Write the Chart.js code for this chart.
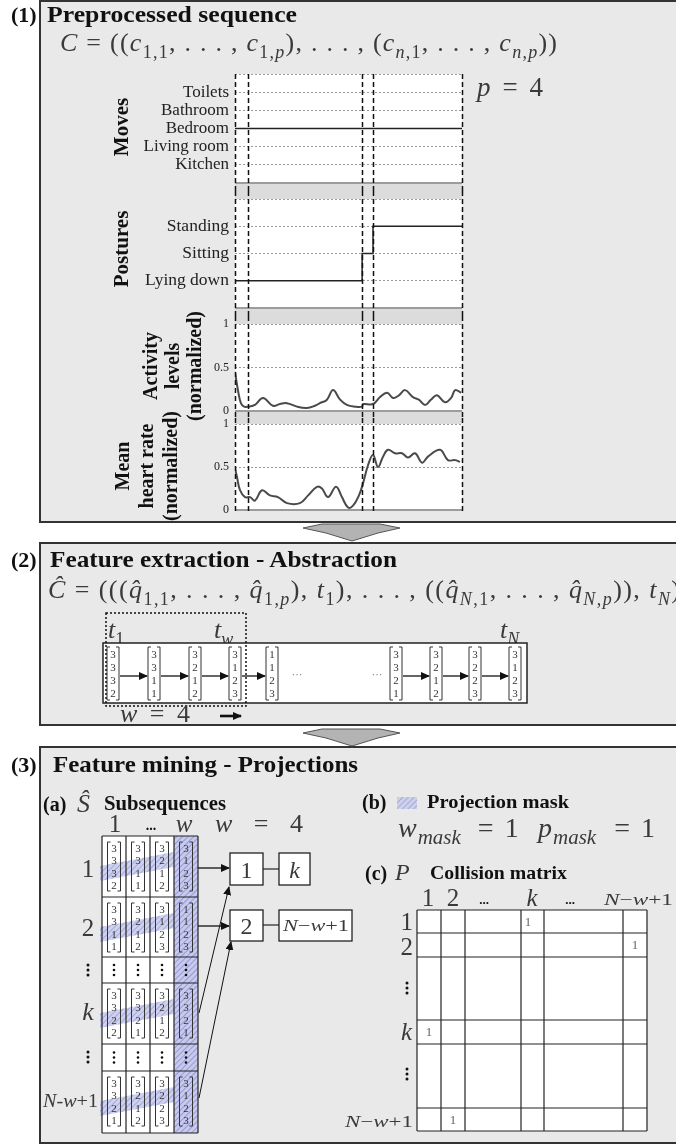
<!DOCTYPE html>
<html>
<head>
<meta charset="utf-8">
<script src="https://cdn.jsdelivr.net/npm/chart.js@4.4.1/dist/chart.umd.min.js"></script>
<style>
  html, body { margin: 0; padding: 0; background: #fff; }
  #page { position: relative; width: 676px; height: 1144px; overflow: hidden; }
  #bg, #fg { position: absolute; left: 0; top: 0; }
  #bg { z-index: 0; }
  #fg { z-index: 2; pointer-events: none; }
  canvas { position: absolute; z-index: 1; }
  svg text { white-space: pre; }
</style>
</head>
<body>
<div id="page">
  <svg id="bg" width="676" height="1144"></svg>
  <canvas id="cMoves" width="412" height="131" style="left:60px;top:60px"></canvas>
  <canvas id="cPostures" width="412" height="125" style="left:60px;top:191px"></canvas>
  <canvas id="cActivity" width="412" height="102" style="left:60px;top:316px"></canvas>
  <canvas id="cHeart" width="412" height="102" style="left:60px;top:418px"></canvas>
  <svg id="fg" width="676" height="1144" font-family="Liberation Serif, Times New Roman, serif"></svg>
</div>
<script>
// ---- data ----
const moveRooms = ["Kitchen", "Living room", "Bedroom", "Bathroom", "Toilets"];
const moveTimes = [0, 100];
const moveValues = ["Bedroom", "Bedroom"];

const postureNames = ["Lying down", "Sitting", "Standing"];
const postureTimes = [0, 56, 60.8, 100];
const postureValues = ["Lying down", "Sitting", "Standing", "Standing"];

const activityTimes = [0, 1.3, 2.6, 4, 5.7, 8.8, 12.3, 16.7, 19.8, 22.9, 27.3, 31.7, 35.2, 37.4, 40.5, 43.2, 46.3, 49.3, 52.9, 56, 56.4, 60.8, 63.9, 67, 69.6, 72.2, 74.9, 78.4, 81, 83.7, 86.3, 89, 92.5, 95.2, 97, 99.6];
const activityValues = [0.45, 0.24, 0.09, 0.05, 0.05, 0.07, 0.15, 0.06, 0.08, 0.09, 0.05, 0.035, 0.06, 0.09, 0.13, 0.24, 0.13, 0.07, 0.05, 0.05, 0.08, 0.08, 0.16, 0.21, 0.15, 0.18, 0.24, 0.16, 0.13, 0.07, 0.13, 0.18, 0.10, 0.15, 0.24, 0.21];

const heartTimes = [0, 0.9, 2.2, 4.4, 6.6, 8.8, 11.9, 15.4, 18.9, 22.9, 28.6, 32.2, 36.1, 38.3, 41, 44.5, 47.1, 49.8, 52, 54.6, 56.4, 58.6, 60.8, 63, 65.2, 67.4, 70.5, 73.6, 76.2, 79.3, 82.4, 85, 90.3, 93.8, 96.9, 99.1];
const heartValues = [0.49, 0.38, 0.23, 0.15, 0.15, 0.11, 0.23, 0.17, 0.15, 0.08, 0.08, 0.17, 0.27, 0.25, 0.15, 0.27, 0.15, 0.03, 0.05, 0.17, 0.31, 0.52, 0.64, 0.50, 0.62, 0.70, 0.66, 0.66, 0.61, 0.66, 0.55, 0.62, 0.70, 0.58, 0.58, 0.56];

const windowCuts = [0, 5.7, 56, 60.8, 100];
const normTicks = [0, 0.5, 1];

// symbolic sequence (panel 2)
const seqHead = [[3, 3, 3, 2], [3, 3, 1, 1], [3, 2, 1, 2], [3, 1, 2, 3], [1, 1, 2, 3]];
const seqTail = [[3, 3, 2, 1], [3, 2, 1, 2], [3, 2, 2, 3], [3, 1, 2, 3]];

// subsequences (panel 3a)
const subRow1 = [[3, 3, 3, 2], [3, 3, 1, 1], [3, 2, 1, 2], [3, 1, 2, 3]];
const subRow2 = [[3, 3, 1, 1], [3, 2, 1, 2], [3, 1, 2, 3], [1, 1, 2, 3]];
const subRowK = [[3, 3, 2, 2], [3, 3, 2, 1], [3, 2, 1, 2], [3, 3, 2, 1]];
const subRowLast = [[3, 3, 2, 1], [3, 2, 1, 2], [3, 2, 2, 3], [3, 1, 2, 3]];

// collision matrix (panel 3c)
const matrixCols = ["1", "2", "...", "k", "...", "N−w+1"];
const matrixRows = ["1", "2", "⋮", "k", "⋮", "N−w+1"];
const collisionOnes = [["1", "k"], ["2", "N−w+1"], ["k", "1"], ["N−w+1", "2"]];

const serif = "'Liberation Serif', 'Times New Roman', serif";

// ---- panel 1 charts ----
const plotDecor = {
  id: "plotDecor",
  beforeDraw(chart, args, opts) {
    const { ctx, chartArea: a } = chart;
    ctx.save();
    ctx.fillStyle = "#dcdcdc";
    if (opts.bandAbove) ctx.fillRect(a.left, 0, a.width, a.top);
    if (opts.bandBelow) ctx.fillRect(a.left, a.bottom, a.width, chart.height - a.bottom);
    ctx.fillStyle = "#fff";
    ctx.fillRect(a.left, a.top, a.width, a.height);
    ctx.restore();
  },
  afterDraw(chart, args, opts) {
    const { ctx, chartArea: a, scales: { x, y } } = chart;
    ctx.save();
    const yb = y.getPixelForValue(y.min);
    ctx.strokeStyle = "#9c9c9c";
    ctx.lineWidth = 2;
    ctx.beginPath(); ctx.moveTo(a.left, yb); ctx.lineTo(a.right, yb); ctx.stroke();
    ctx.strokeStyle = "#111";
    ctx.lineWidth = 1.5;
    ctx.setLineDash([5, 3]);
    const y0 = opts.first ? a.top : 0;
    const y1 = opts.last ? a.bottom + 2 : chart.height;
    windowCuts.forEach(t => {
      const px = Math.round(x.getPixelForValue(t)) + 0.5;
      ctx.beginPath(); ctx.moveTo(px, y0); ctx.lineTo(px, y1); ctx.stroke();
    });
    ctx.restore();
  }
};

function plotChart(id, dataset, cfg, decor) {
  return new Chart(document.getElementById(id), {
    type: "line",
    data: { datasets: [dataset] },
    options: {
      responsive: false,
      animation: false,
      devicePixelRatio: 1,
      layout: { padding: cfg.pad },
      plugins: { legend: { display: false }, tooltip: { enabled: false }, plotDecor: decor },
      scales: {
        x: { type: "linear", min: 0, max: 100, display: false },
        y: {
          min: cfg.min,
          max: cfg.max,
          afterBuildTicks: s => { s.ticks = cfg.ticks.map(v => ({ value: v })); },
          ticks: { autoSkip: false, padding: 6, color: "#222", font: { family: serif, size: cfg.tickSize }, callback: cfg.label },
          grid: {
            drawTicks: false,
            lineWidth: 1,
            color: c => (c.tick && c.tick.value === cfg.min) ? "rgba(0,0,0,0)" : "#9a9a9a"
          },
          border: { display: false, dash: [2, 2] },
          afterFit: s => { s.width = 175; s.paddingTop = 0; s.paddingBottom = 0; }
        }
      }
    },
    plugins: [plotDecor]
  });
}

const stepLine = (times, vals, names) => ({
  data: times.map((t, i) => ({ x: t, y: names.indexOf(vals[i]) + 1 })),
  stepped: true, borderColor: "#222", borderWidth: 1.5, pointRadius: 0
});
const curve = (times, vals) => ({
  data: times.map((t, i) => ({ x: t, y: vals[i] })),
  borderColor: "#4a4a4a", borderWidth: 2, pointRadius: 0, tension: 0.4
});

plotChart("cMoves", stepLine(moveTimes, moveValues, moveRooms), {
  pad: { top: 14, bottom: 8, left: 0, right: 10 }, min: 0, max: 6, ticks: [0, 1, 2, 3, 4, 5, 6],
  tickSize: 17, label: v => moveRooms[v - 1] || ""
}, { first: true, bandBelow: true });

plotChart("cPostures", stepLine(postureTimes, postureValues, postureNames), {
  pad: { top: 8, bottom: 8, left: 0, right: 10 }, min: 0, max: 4, ticks: [0, 1, 2, 3, 4],
  tickSize: 17.5, label: v => postureNames[v - 1] || ""
}, { bandAbove: true, bandBelow: true });

plotChart("cActivity", curve(activityTimes, activityValues), {
  pad: { top: 8, bottom: 7, left: 0, right: 10 }, min: 0, max: 1, ticks: normTicks,
  tickSize: 12, label: v => String(v)
}, { bandAbove: true, bandBelow: true });

plotChart("cHeart", curve(heartTimes, heartValues), {
  pad: { top: 6, bottom: 10, left: 0, right: 10 }, min: 0, max: 1, ticks: normTicks,
  tickSize: 12, label: v => String(v)
}, { bandAbove: true, last: true });

// ---- background panels ----
const bg = [];
[[1, 521], [543, 182], [747, 396]].forEach(([y, h]) =>
  bg.push(`<rect x="40" y="${y}" width="650" height="${h}" fill="#e9e9e9" stroke="#333" stroke-width="2"/>`));
[524, 729].forEach(t => {
  const p = [[303, 4], [322, 0], [380, 0], [400, 4], [378, 9], [352, 17], [326, 9]];
  bg.push(`<polygon points="${p.map(([x, d]) => x + "," + (t + d)).join(" ")}" fill="#b3b3b3" stroke="#555" stroke-width="1"/>`);
});
document.getElementById("bg").innerHTML = bg.join("");

// ---- foreground diagram ----
const fg = [];
fg.push(`<defs>
  <pattern id="hatch" width="4" height="4" patternUnits="userSpaceOnUse" patternTransform="rotate(45)">
    <rect width="4" height="4" fill="#c7caec"/><line x1="0" y1="0" x2="0" y2="4" stroke="#7f86c8" stroke-width="1.4"/>
  </pattern>
  <marker id="ah" markerWidth="9" markerHeight="8" refX="8" refY="4" orient="auto" markerUnits="userSpaceOnUse">
    <path d="M0,0 L9,4 L0,8 z" fill="#111"/>
  </marker>
</defs>`);

function T(x, y, s, o = {}) {
  const a = [`x="${x}"`, `y="${y}"`, `font-size="${o.size || 20}"`];
  if (o.bold) a.push('font-weight="bold"');
  if (o.italic) a.push('font-style="italic"');
  if (o.anchor) a.push(`text-anchor="${o.anchor}"`);
  if (o.len) a.push(`textLength="${o.len}" lengthAdjust="spacingAndGlyphs"`);
  a.push(`fill="${o.fill || "#111"}"`);
  fg.push(`<text ${a.join(" ")}>${s}</text>`);
}
// math-like text: parts are [kind, text, dx]; kind r/i normal, s/si subscript
function M(x, y, size, parts, len, adj = "spacing", fill = "#3a3a3a", subScale = 0.7) {
  let inner = "", low = false;
  const sub = Math.round(size * subScale), sh = Math.round(size * 0.25);
  parts.forEach(([k, s, dx]) => {
    const isSub = k[0] === "s";
    let dy = 0;
    if (isSub && !low) { dy = sh; low = true; } else if (!isSub && low) { dy = -sh; low = false; }
    inner += `<tspan${dy ? ` dy="${dy}"` : ""}${dx ? ` dx="${dx}"` : ""}${k === "i" || k === "si" ? ' font-style="italic"' : ""}${isSub ? ` font-size="${sub}"` : ""}>${s}</tspan>`;
  });
  fg.push(`<text x="${x}" y="${y}" font-size="${size}" fill="${fill}"${len ? ` textLength="${len}" lengthAdjust="${adj}"` : ""}>${inner}</text>`);
}
// vertical axis title, lines stacked left to right
function vTitle(xs, cy, lines, size) {
  lines.forEach((s, i) => fg.push(`<text transform="translate(${xs[i]},${cy}) rotate(-90)" x="0" y="0" dy="0.35em" text-anchor="middle" font-size="${size}" font-weight="bold" fill="#111">${s}</text>`));
}
function arrow(x1, y1, x2, y2, w = 1.3) {
  fg.push(`<line x1="${x1}" y1="${y1}" x2="${x2}" y2="${y2}" stroke="#111" stroke-width="${w}" marker-end="url(#ah)"/>`);
}
function vec(cx, top, h, vals, w = 12) {
  const l = cx - w / 2, r = cx + w / 2, b = top + h;
  fg.push(`<path d="M${l + 3},${top}H${l}V${b}H${l + 3}M${r - 3},${top}H${r}V${b}H${r - 3}" fill="none" stroke="#333" stroke-width="1"/>`);
  vals.forEach((v, i) => fg.push(`<text x="${cx}" y="${(top + h * (i + 0.5) / 4 + 4).toFixed(1)}" font-size="11" text-anchor="middle" fill="#333">${v}</text>`));
}
function vdots(cx, cy, r = 1.3, gap = 5) {
  [-gap, 0, gap].forEach(d => fg.push(`<circle cx="${cx}" cy="${cy + d}" r="${r}" fill="#111"/>`));
}
function box(x, y, w, h) {
  fg.push(`<rect x="${x}" y="${y}" width="${w}" height="${h}" fill="#fff" stroke="#222" stroke-width="1.3"/>`);
}

// panel 1 texts
T(11, 22, "(1)", { size: 22, bold: true });
T(47, 22, "Preprocessed sequence", { size: 23, bold: true, len: 250 });
M(60, 51, 26, [["i", "C"], ["r", " = (("], ["i", "c"], ["s", "1,1"], ["r", ", . . . , "], ["i", "c"], ["s", "1,"], ["si", "p"], ["r", "), . . . , ("], ["i", "c"], ["si", "n"], ["s", ",1"], ["r", ", . . . , "], ["i", "c"], ["si", "n"], ["s", ","], ["si", "p"], ["r", "))"]], 497);
M(477, 96, 27, [["i", "p"], ["r", " = 4"]], 66);
vTitle([121], 127, ["Moves"], 21);
vTitle([121], 249, ["Postures"], 21);
vTitle([150, 172, 194], 366, ["Activity", "levels", "(normalized)"], 20);
vTitle([122, 146, 170], 466, ["Mean", "heart rate", "(normalized)"], 20);

// panel 2
T(11, 567, "(2)", { size: 22, bold: true });
T(50, 567, "Feature extraction - Abstraction", { size: 23, bold: true, len: 347 });
M(48, 598, 26, [["i", "Ĉ"], ["r", " = ((("], ["i", "q̂"], ["s", "1,1"], ["r", ", . . . , "], ["i", "q̂"], ["s", "1,"], ["si", "p"], ["r", "), "], ["i", "t"], ["s", "1"], ["r", "), . . . , (("], ["i", "q̂"], ["si", "N"], ["s", ",1"], ["r", ", . . . , "], ["i", "q̂"], ["si", "N"], ["s", ","], ["si", "p"], ["r", ")), "], ["i", "t"], ["si", "N"], ["r", ")"]], 632);
M(108, 638, 26, [["i", "t"], ["s", "1"]]);
M(214, 638, 26, [["i", "t"], ["si", "w"]]);
M(500, 638, 26, [["i", "t"], ["si", "N"]]);
fg.push(`<rect x="103" y="643" width="424" height="60" fill="#fff" stroke="#222" stroke-width="1.5"/>`);
const headX = [113, 154, 195, 235, 272], tailX = [396, 436, 475, 515];
seqHead.forEach((v, i) => vec(headX[i], 647, 53, v));
seqTail.forEach((v, i) => vec(tailX[i], 647, 53, v));
for (let i = 0; i < headX.length - 1; i++) arrow(headX[i] + 7, 676, headX[i + 1] - 7, 676);
for (let i = 0; i < tailX.length - 1; i++) arrow(tailX[i] + 7, 676, tailX[i + 1] - 7, 676);
T(297, 678, "···", { size: 11, anchor: "middle", fill: "#777" });
T(377, 678, "···", { size: 11, anchor: "middle", fill: "#777" });
fg.push(`<rect x="106" y="613" width="140" height="93" fill="none" stroke="#111" stroke-width="1.5" stroke-dasharray="2,2"/>`);
M(120, 722, 26, [["i", "w"], ["r", " = 4"]], 70);
arrow(220, 716, 241, 716, 2.6);

// panel 3
T(11, 772, "(3)", { size: 22, bold: true });
T(53, 772, "Feature mining - Projections", { size: 23, bold: true, len: 305 });
T(43, 811, "(a)", { size: 20, bold: true });
T(77, 812, "Ŝ", { size: 26, italic: true, fill: "#3a3a3a" });
T(104, 810, "Subsequences", { size: 20, bold: true, len: 122 });
T(115, 832, "1", { size: 25, anchor: "middle", fill: "#3a3a3a" });
T(151, 830, "...", { size: 14, bold: true, anchor: "middle" });
T(184, 832, "w", { size: 25, italic: true, anchor: "middle", fill: "#3a3a3a" });
M(215, 832, 26, [["i", "w"], ["r", " = 4"]], 88);

const colX = [102, 126, 150, 174, 198];
const rowY = [836, 897, 957, 983, 1044, 1071, 1133];
const subRows = [subRow1, subRow2, null, subRowK, null, subRowLast];
subRows.forEach((row, r) => {
  const t = rowY[r], h = rowY[r + 1] - t;
  for (let c = 0; c < 4; c++)
    fg.push(`<rect x="${colX[c]}" y="${t}" width="24" height="${h}" fill="${c === 3 ? "url(#hatch)" : "#fff"}"/>`);
  if (row) fg.push(`<polygon points="100,${t + 30} 174,${t + 16} 174,${t + 31} 100,${t + 45}" fill="url(#hatch)" opacity="0.85"/>`);
});
subRows.forEach((row, r) => {
  const t = rowY[r], h = rowY[r + 1] - t;
  for (let c = 0; c < 4; c++) {
    if (row) vec(colX[c] + 12, t + 6, 49, row[c], 13);
    else vdots(colX[c] + 12, t + h / 2);
  }
});
colX.forEach(x => fg.push(`<line x1="${x}" y1="836" x2="${x}" y2="1133" stroke="#222" stroke-width="1.2"/>`));
rowY.forEach(y => fg.push(`<line x1="102" y1="${y}" x2="198" y2="${y}" stroke="#222" stroke-width="1.2"/>`));
T(88, 877, "1", { size: 25, anchor: "middle", fill: "#3a3a3a" });
T(88, 936, "2", { size: 25, anchor: "middle", fill: "#3a3a3a" });
vdots(88, 970, 1.5, 5);
T(88, 1020, "k", { size: 26, italic: true, anchor: "middle", fill: "#3a3a3a" });
vdots(88, 1057, 1.5, 5);
M(43, 1107, 18, [["i", "N"], ["r", "-"], ["i", "w"], ["r", "+1"]], 55, "spacingAndGlyphs");

box(230, 853, 33, 32); box(279, 853, 31, 32); box(230, 910, 33, 31); box(279, 910, 73, 31);
T(246.5, 878, "1", { size: 24, anchor: "middle", fill: "#3a3a3a" });
T(294.5, 878, "k", { size: 24, italic: true, anchor: "middle", fill: "#3a3a3a" });
T(246.5, 934, "2", { size: 24, anchor: "middle", fill: "#3a3a3a" });
M(283, 931, 17, [["i", "N"], ["r", "−"], ["i", "w"], ["r", "+1"]], 66, "spacingAndGlyphs");
fg.push(`<line x1="263" y1="869" x2="279" y2="869" stroke="#222" stroke-width="1.2"/><line x1="263" y1="925" x2="279" y2="925" stroke="#222" stroke-width="1.2"/>`);
arrow(198, 868, 229, 868);
arrow(198, 926, 229, 926);
arrow(199, 1013, 229, 887, 1);
arrow(199, 1098, 231, 942, 1);

T(362, 809, "(b)", { size: 20, bold: true });
fg.push(`<rect x="397" y="797" width="20" height="12" fill="url(#hatch)" opacity="0.8"/>`);
T(427, 808, "Projection mask", { size: 19, bold: true, len: 142 });
M(398, 837, 28, [["i", "w"], ["si", "mask", 1], ["r", "=", 17], ["r", "1", 11]], 0, "spacing", "#3a3a3a", 0.75);
M(538, 837, 28, [["i", "p"], ["si", "mask", 1], ["r", "=", 18], ["r", "1", 11]], 0, "spacing", "#3a3a3a", 0.75);

T(365, 880, "(c)", { size: 20, bold: true });
T(395, 880, "P", { size: 24, italic: true, fill: "#3a3a3a" });
T(430, 879, "Collision matrix", { size: 19, bold: true, len: 137 });

const mCols = [417, 441, 465, 521, 544, 623, 647];
const mRows = [910, 933, 957, 1020, 1044, 1108, 1131];
fg.push(`<rect x="417" y="910" width="230" height="221" fill="#fff"/>`);
mCols.forEach(x => fg.push(`<line x1="${x}" y1="910" x2="${x}" y2="1131" stroke="#222" stroke-width="1.2"/>`));
mRows.forEach(y => fg.push(`<line x1="417" y1="${y}" x2="647" y2="${y}" stroke="#222" stroke-width="1.2"/>`));
// column headers
T(428, 906, "1", { size: 25, anchor: "middle", fill: "#3a3a3a" });
T(453, 906, "2", { size: 25, anchor: "middle", fill: "#3a3a3a" });
T(484, 904, "...", { size: 13, bold: true, anchor: "middle" });
T(532, 906, "k", { size: 25, italic: true, anchor: "middle", fill: "#3a3a3a" });
T(570, 904, "...", { size: 13, bold: true, anchor: "middle" });
M(604, 905, 16, [["i", "N"], ["r", "−"], ["i", "w"], ["r", "+1"]], 69, "spacingAndGlyphs");
// row headers
T(413, 930, "1", { size: 25, anchor: "end", fill: "#3a3a3a" });
T(413, 955, "2", { size: 25, anchor: "end", fill: "#3a3a3a" });
vdots(407, 988, 1.5, 5);
T(412, 1040, "k", { size: 25, italic: true, anchor: "end", fill: "#3a3a3a" });
vdots(407, 1074, 1.5, 5);
M(345, 1127, 17, [["i", "N"], ["r", "−"], ["i", "w"], ["r", "+1"]], 68, "spacingAndGlyphs");
// ones
collisionOnes.forEach(([r, c]) => {
  const ri = matrixRows.indexOf(r), ci = matrixCols.indexOf(c);
  const cx = c === "k" ? mCols[ci] + 7 : (mCols[ci] + mCols[ci + 1]) / 2;
  T(cx, mRows[ri] + 16, "1", { size: 13, anchor: "middle", fill: "#666" });
});

document.getElementById("fg").innerHTML = fg.join("");
</script>
</body>
</html>
